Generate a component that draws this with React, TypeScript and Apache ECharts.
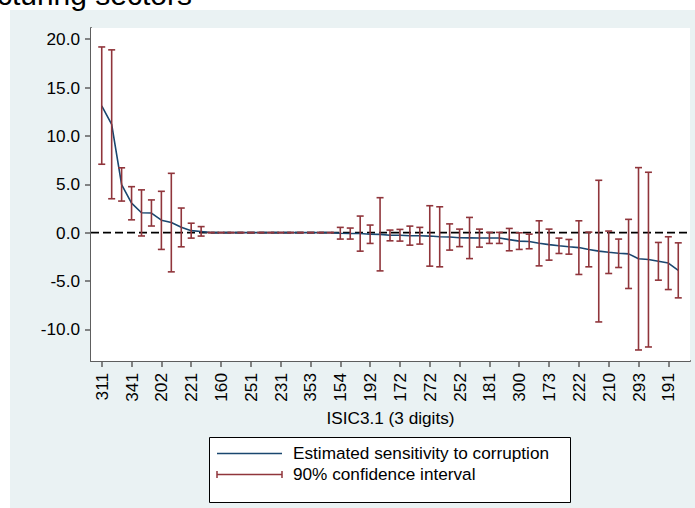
import React, { useEffect, useRef } from "react";
import * as echarts from "echarts";

const xTickLabels = ["311","341","202","221","160","251","231","353","154","192","172","272","252","181","300","173","222","210","293","191"];
const tickEvery = 3;

const estimate = [
  13.1, 11.2, 4.95, 3.05, 2.05, 2.02, 1.28, 1.04, 0.56, 0.2, 0.12,
  0, 0, 0, 0, 0, 0, 0, 0, 0, 0, 0, 0, 0,
  -0.06, -0.1, -0.1, -0.17, -0.18, -0.28, -0.28, -0.32, -0.33, -0.36,
  -0.43, -0.45, -0.54, -0.55, -0.56, -0.56, -0.56, -0.73, -0.88, -0.92,
  -1.1, -1.24, -1.36, -1.46, -1.55, -1.75, -1.92, -2.03, -2.13, -2.2,
  -2.7, -2.78, -2.96, -3.15, -3.9,
];

const ciHigh = [
  19.2, 18.9, 6.7, 4.75, 4.42, 3.38, 4.27, 6.13, 2.54, 0.97, 0.62,
  0, 0, 0, 0, 0, 0, 0, 0, 0, 0, 0, 0, 0,
  0.54, 0.47, 1.71, 0.78, 3.61, 0.26, 0.33, 0.67, 0.54, 2.78,
  2.67, 0.9, 0.36, 1.57, 0.36, 0.02, 0.02, 0.43, -0.02, -0.16,
  1.22, 0.36, -0.57, -0.71, 1.22, 0.05, 5.41, 0.16, -0.67, 1.37,
  6.72, 6.24, -1.02, -0.43, -1.06,
];

const ciLow = [
  7.07, 3.5, 3.26, 1.32, -0.35, 0.68, -1.74, -4.06, -1.47, -0.57, -0.36,
  0, 0, 0, 0, 0, 0, 0, 0, 0, 0, 0, 0, 0,
  -0.67, -0.67, -1.92, -1.12, -3.96, -0.85, -0.88, -1.3, -1.19, -3.47,
  -3.54, -1.81, -1.45, -2.69, -1.5, -1.12, -1.12, -1.88, -1.74, -1.67,
  -3.44, -2.85, -2.16, -2.23, -4.33, -3.54, -9.24, -4.23, -3.61, -5.78,
  -12.14, -11.83, -4.92, -5.89, -6.75,
];

const yTicks = [-10, -5, 0, 5, 10, 15, 20];
const X_MIN = -1.08;
const X_MAX = 59.18;
const Y_MIN = -13.28;
const Y_MAX = 21.16;

const NAVY = "#1a476f";
const MAROON = "#90353b";
const PANEL = "#eaf2f3";
const AXIS = "#5e5e5e";
const FONT = "Liberation Sans, Arial, sans-serif";
const FS = 17.2;

export default function App() {
  const ref = useRef<HTMLDivElement>(null);

  useEffect(() => {
    if (!ref.current) return;
    const chart = echarts.init(ref.current, undefined, { renderer: "svg" });
    const xTickValues = xTickLabels.map((_, k) => k * tickEvery);
    const lineData = estimate.map((v, i) => [i, v]);
    const ciData = ciHigh.map((h, i) => [i, ciLow[i], h]);

    chart.setOption({
      animation: false,
      backgroundColor: "#ffffff",
      textStyle: { fontFamily: FONT },
      grid: {
        left: 91,
        top: 28,
        right: 5,
        bottom: 147,
        show: true,
        backgroundColor: "#ffffff",
        borderWidth: 0,
        z: 1,
      },
      xAxis: {
        type: "value",
        min: X_MIN,
        max: X_MAX,
        name: "ISIC3.1 (3 digits)",
        nameLocation: "middle",
        nameGap: 48,
        nameTextStyle: { fontSize: FS, color: "#000", fontFamily: FONT },
        axisLine: { show: true, onZero: false, lineStyle: { color: AXIS, width: 2 } },
        axisTick: {
          show: true,
          customValues: xTickValues,
          length: 6,
          lineStyle: { color: AXIS, width: 1.5 },
        },
        axisLabel: {
          customValues: xTickValues,
          rotate: 90,
          margin: 12,
          fontSize: FS,
          color: "#000",
          fontFamily: FONT,
          formatter: (v: number) => xTickLabels[Math.round(v / tickEvery)] ?? "",
        },
        splitLine: { show: false },
      },
      yAxis: {
        type: "value",
        min: Y_MIN,
        max: Y_MAX,
        axisLine: { show: true, onZero: false, lineStyle: { color: AXIS, width: 2 } },
        axisTick: {
          show: true,
          customValues: yTicks,
          length: 6,
          lineStyle: { color: AXIS, width: 1.5 },
        },
        axisLabel: {
          customValues: yTicks,
          margin: 11,
          fontSize: FS,
          color: "#000",
          fontFamily: FONT,
          formatter: (v: number) => v.toFixed(1),
        },
        splitLine: { show: true, lineStyle: { color: "#e6eef0", width: 1.5 } },
      },
      graphic: [
        {
          type: "rect",
          z: -10,
          silent: true,
          shape: { x: 10, y: 10, width: 685, height: 498 },
          style: { fill: PANEL },
        },
        {
          type: "text",
          x: 192,
          y: -6,
          silent: true,
          style: {
            text: "Manufacturing sectors",
            fontSize: 30,
            fontFamily: FONT,
            fill: "#000",
            textAlign: "right",
            textVerticalAlign: "middle",
          },
        },
        {
          type: "group",
          silent: true,
          children: [
            {
              type: "rect",
              shape: { x: 209.5, y: 437.5, width: 361, height: 65 },
              style: { fill: "#ffffff", stroke: "#000", lineWidth: 1 },
            },
            {
              type: "line",
              shape: { x1: 217, y1: 453.5, x2: 282, y2: 453.5 },
              style: { stroke: NAVY, lineWidth: 1.5 },
            },
            {
              type: "text",
              x: 293,
              y: 453,
              style: {
                text: "Estimated sensitivity to corruption",
                fontSize: FS,
                fontFamily: FONT,
                fill: "#000",
                textVerticalAlign: "middle",
              },
            },
            {
              type: "line",
              shape: { x1: 217, y1: 474.5, x2: 282, y2: 474.5 },
              style: { stroke: MAROON, lineWidth: 1.5 },
            },
            {
              type: "line",
              shape: { x1: 217, y1: 471, x2: 217, y2: 478 },
              style: { stroke: MAROON, lineWidth: 1.5 },
            },
            {
              type: "line",
              shape: { x1: 282, y1: 471, x2: 282, y2: 478 },
              style: { stroke: MAROON, lineWidth: 1.5 },
            },
            {
              type: "text",
              x: 293,
              y: 474,
              style: {
                text: "90% confidence interval",
                fontSize: FS,
                fontFamily: FONT,
                fill: "#000",
                textVerticalAlign: "middle",
              },
            },
          ],
        },
      ],
      series: [
        {
          type: "line",
          name: "zero",
          z: 2,
          silent: true,
          symbol: "none",
          data: [
            [X_MIN, 0],
            [X_MAX, 0],
          ],
          lineStyle: { color: "#000", width: 1.6, type: [8, 4] },
        },
        {
          type: "line",
          name: "Estimated sensitivity to corruption",
          z: 3,
          symbol: "none",
          data: lineData,
          lineStyle: { color: NAVY, width: 1.6 },
        },
        {
          type: "custom",
          name: "90% confidence interval",
          z: 4,
          data: ciData,
          encode: { x: 0, y: [1, 2] },
          renderItem: (params: any, api: any) => {
            const i = api.value(0);
            const lo = api.coord([i, api.value(1)]);
            const hi = api.coord([i, api.value(2)]);
            const half = 3.5;
            const style = { stroke: MAROON, lineWidth: 1.6 };
            return {
              type: "group",
              children: [
                { type: "line", shape: { x1: hi[0], y1: hi[1], x2: lo[0], y2: lo[1] }, style },
                { type: "line", shape: { x1: hi[0] - half, y1: hi[1], x2: hi[0] + half, y2: hi[1] }, style },
                { type: "line", shape: { x1: lo[0] - half, y1: lo[1], x2: lo[0] + half, y2: lo[1] }, style },
              ],
            };
          },
        },
      ],
    });

    return () => chart.dispose();
  }, []);

  return (
    <div
      ref={ref}
      style={{ position: "fixed", left: 0, top: 0, width: 695, height: 508 }}
    />
  );
}
